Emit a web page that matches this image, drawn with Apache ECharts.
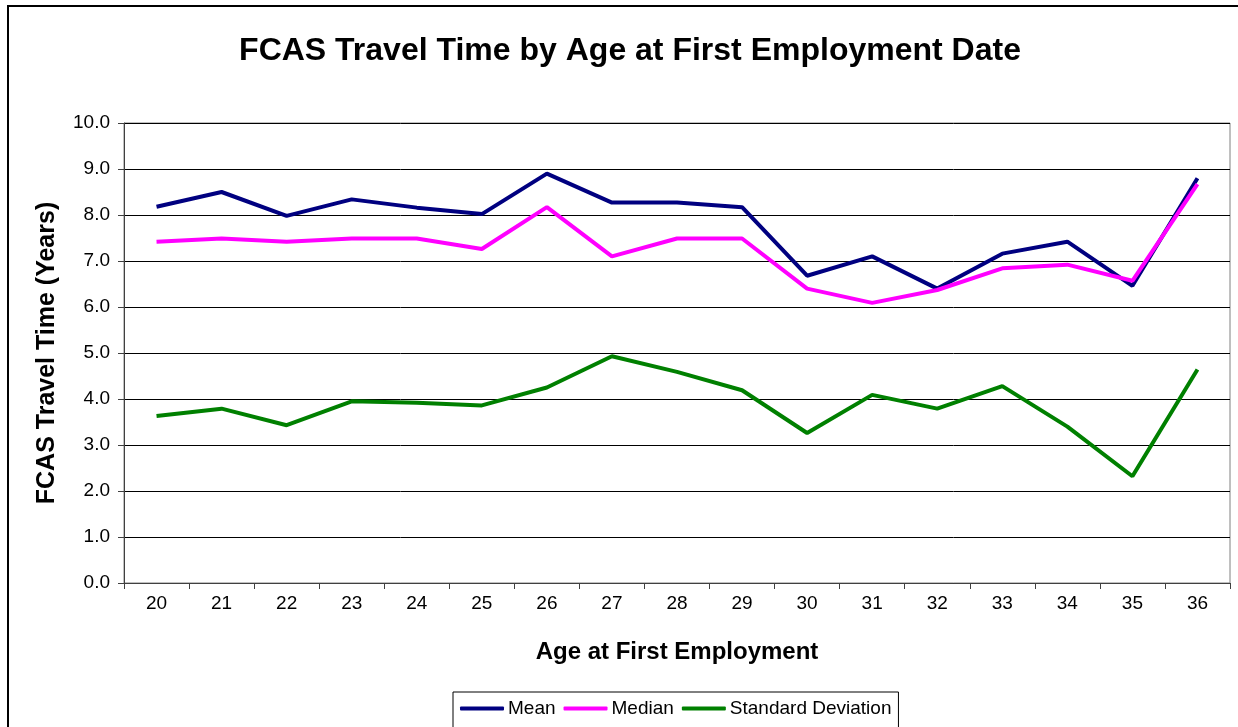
<!DOCTYPE html>
<html>
<head>
<meta charset="utf-8">
<script src="https://cdn.jsdelivr.net/npm/echarts@6/dist/echarts.min.js"></script>
<style>
  html, body { margin: 0; padding: 0; background: #ffffff; }
  #chart { width: 1238px; height: 727px; }
</style>
</head>
<body>
<div id="chart"></div>
<script>
const ages = ['20','21','22','23','24','25','26','27','28','29','30','31','32','33','34','35','36'];
const meanValues = [8.18, 8.50, 7.98, 8.34, 8.16, 8.02, 8.90, 8.27, 8.27, 8.17, 6.68, 7.10, 6.40, 7.16, 7.42, 6.46, 8.80];
const medianValues = [7.42, 7.49, 7.42, 7.49, 7.49, 7.26, 8.17, 7.10, 7.49, 7.49, 6.40, 6.09, 6.37, 6.84, 6.92, 6.57, 8.67];
const sdValues = [3.63, 3.79, 3.43, 3.95, 3.92, 3.86, 4.25, 4.93, 4.59, 4.19, 3.26, 4.09, 3.79, 4.28, 3.40, 2.32, 4.64];

const font = '"Liberation Sans", Arial, sans-serif';
const chart = echarts.init(document.getElementById('chart'), null, { renderer: 'canvas' });

function lineSeries(name, data, color) {
  return {
    name: name,
    type: 'line',
    data: data,
    symbol: 'none',
    lineStyle: { color: color, width: 4 },
    itemStyle: { color: color },
    animation: false
  };
}

chart.setOption({
  animation: false,
  backgroundColor: '#ffffff',
  graphic: [{
    type: 'rect',
    shape: { x: 8, y: 6, width: 1260, height: 760 },
    style: { fill: 'none', stroke: '#000000', lineWidth: 2 },
    silent: true
  }],
  title: {
    text: 'FCAS Travel Time by Age at First Employment Date',
    left: 625,
    textAlign: 'center',
    top: 30,
    textStyle: { fontFamily: font, fontSize: 32, fontWeight: 'bold', color: '#000000' }
  },
  grid: {
    left: 124, right: 8, top: 123, bottom: 144,
    show: true, borderColor: '#808080', borderWidth: 1, backgroundColor: '#ffffff'
  },
  legend: {
    left: 453, top: 692,
    padding: [7, 7, 10, 7],
    itemGap: 8,
    itemWidth: 44,
    itemHeight: 4,
    icon: 'roundRect',
    borderColor: '#000000',
    borderWidth: 1,
    textStyle: { fontFamily: font, fontSize: 19, color: '#000000', padding: [0, 0, 0, -1] },
    data: ['Mean', 'Median', 'Standard Deviation']
  },
  xAxis: {
    type: 'category',
    data: ages,
    boundaryGap: true,
    name: 'Age at First Employment',
    nameLocation: 'middle',
    nameGap: 57,
    nameTextStyle: { fontFamily: font, fontSize: 24, fontWeight: 'bold', color: '#000000' },
    axisLine: { lineStyle: { color: '#404040', width: 1 } },
    axisTick: { show: true, length: 6, lineStyle: { color: '#404040' } },
    axisLabel: { fontFamily: font, fontSize: 19, color: '#000000', margin: 11 },
    splitLine: { show: false }
  },
  yAxis: {
    type: 'value',
    min: 0, max: 10, interval: 1,
    name: 'FCAS Travel Time (Years)',
    nameLocation: 'middle',
    nameGap: 64,
    nameRotate: 90,
    nameTextStyle: { fontFamily: font, fontSize: 25, fontWeight: 'bold', color: '#000000' },
    axisLine: { show: true, lineStyle: { color: '#404040', width: 1 } },
    axisTick: { show: true, length: 6, lineStyle: { color: '#404040' } },
    axisLabel: { fontFamily: font, fontSize: 19, color: '#000000', margin: 14,
      formatter: function (v) { return v.toFixed(1); } },
    splitLine: { show: true, lineStyle: { color: '#000000', width: 1 } }
  },
  series: [
    lineSeries('Mean', meanValues, '#000080'),
    lineSeries('Median', medianValues, '#FF00FF'),
    lineSeries('Standard Deviation', sdValues, '#008000')
  ]
});
</script>
</body>
</html>
